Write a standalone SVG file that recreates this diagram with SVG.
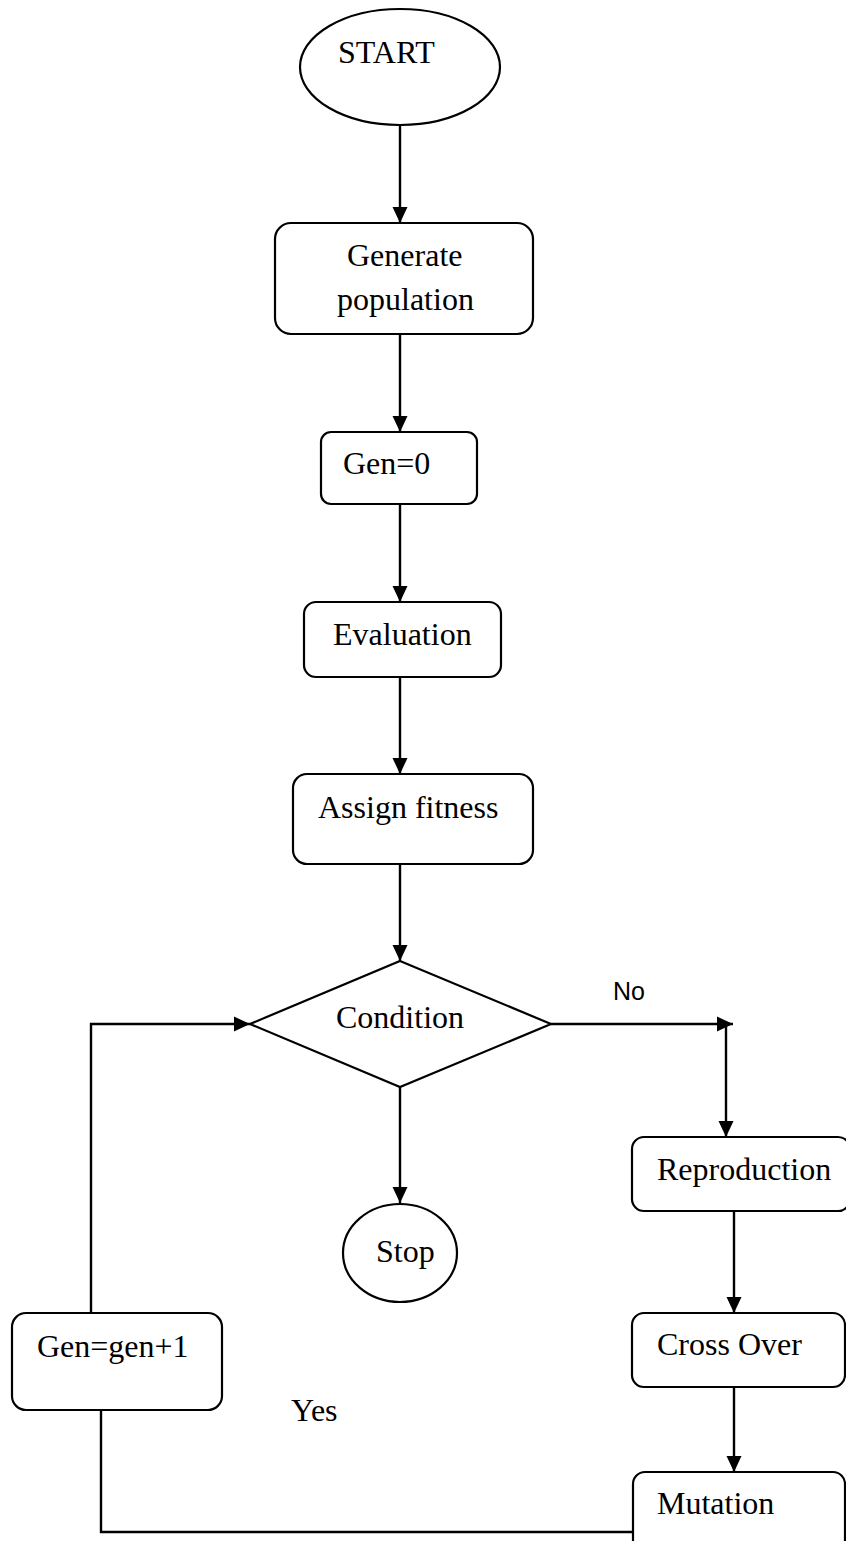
<svg xmlns="http://www.w3.org/2000/svg" width="846" height="1541" viewBox="0 0 846 1541">
  <style>
    .shape { fill: #ffffff; stroke: #000000; stroke-width: 2.2; }
    .label { font-family: "Liberation Serif", "Times New Roman", serif; font-size: 32px; fill: #000000; }
    .sans { font-family: "Liberation Sans", Arial, sans-serif; font-size: 25px; fill: #000000; }
    .wire { fill: none; stroke: #000000; stroke-width: 2.4; }
  </style>
  <defs>
    <marker id="arrow" viewBox="0 0 16 16" refX="16" refY="8" markerWidth="16" markerHeight="16" markerUnits="userSpaceOnUse" orient="auto">
      <path d="M0,0.5 L16,8 L0,15.5 Z" fill="#000000"/>
    </marker>
  </defs>
  <rect width="846" height="1541" fill="#ffffff"/>

  <!-- connectors -->
  <g id="connectors">
    <line class="wire" x1="400" y1="125" x2="400" y2="223" marker-end="url(#arrow)"/>
    <line class="wire" x1="400" y1="334" x2="400" y2="432" marker-end="url(#arrow)"/>
    <line class="wire" x1="400" y1="504" x2="400" y2="602" marker-end="url(#arrow)"/>
    <line class="wire" x1="400" y1="677" x2="400" y2="774" marker-end="url(#arrow)"/>
    <line class="wire" x1="400" y1="864" x2="400" y2="961" marker-end="url(#arrow)"/>
    <line class="wire" x1="400" y1="1087" x2="400" y2="1203" marker-end="url(#arrow)"/>
    <line class="wire" x1="551" y1="1024" x2="733" y2="1024" marker-end="url(#arrow)"/>
    <line class="wire" x1="726" y1="1024" x2="726" y2="1137" marker-end="url(#arrow)"/>
    <line class="wire" x1="734" y1="1211" x2="734" y2="1313" marker-end="url(#arrow)"/>
    <line class="wire" x1="734" y1="1387" x2="734" y2="1472" marker-end="url(#arrow)"/>
    <polyline class="wire" points="91,1313 91,1024 250,1024" marker-end="url(#arrow)"/>
    <polyline class="wire" points="101,1410 101,1532 633,1532"/>
    <text class="sans" x="613" y="1000">No</text>
    <text class="label" x="291" y="1421">Yes</text>
  </g>

  <g id="start">
    <ellipse class="shape" cx="400" cy="67" rx="100" ry="58"/>
    <text class="label" x="338" y="63">START</text>
  </g>

  <g id="generate-population">
    <rect class="shape" x="275" y="223" width="258" height="111" rx="16"/>
    <text class="label" x="347" y="266">Generate</text>
    <text class="label" x="337" y="310">population</text>
  </g>

  <g id="gen-zero">
    <rect class="shape" x="321" y="432" width="156" height="72" rx="10"/>
    <text class="label" x="343" y="474">Gen=0</text>
  </g>

  <g id="evaluation">
    <rect class="shape" x="304" y="602" width="197" height="75" rx="12"/>
    <text class="label" x="333" y="645">Evaluation</text>
  </g>

  <g id="assign-fitness">
    <rect class="shape" x="293" y="774" width="240" height="90" rx="14"/>
    <text class="label" x="318" y="818">Assign fitness</text>
  </g>

  <g id="condition">
    <polygon class="shape" points="400,961 551,1024 400,1087 250,1024"/>
    <text class="label" x="336" y="1028">Condition</text>
  </g>

  <g id="stop">
    <ellipse class="shape" cx="400" cy="1253" rx="57" ry="49"/>
    <text class="label" x="376" y="1262">Stop</text>
  </g>

  <g id="reproduction">
    <rect class="shape" x="632" y="1137" width="218" height="74" rx="12"/>
    <text class="label" x="657" y="1180">Reproduction</text>
  </g>

  <g id="cross-over">
    <rect class="shape" x="632" y="1313" width="213" height="74" rx="12"/>
    <text class="label" x="657" y="1355">Cross Over</text>
  </g>

  <g id="mutation">
    <rect class="shape" x="633" y="1472" width="212" height="80" rx="12"/>
    <text class="label" x="657" y="1514">Mutation</text>
  </g>

  <g id="gen-increment">
    <rect class="shape" x="12" y="1313" width="210" height="97" rx="14"/>
    <text class="label" x="37" y="1357">Gen=gen+1</text>
  </g>
</svg>
